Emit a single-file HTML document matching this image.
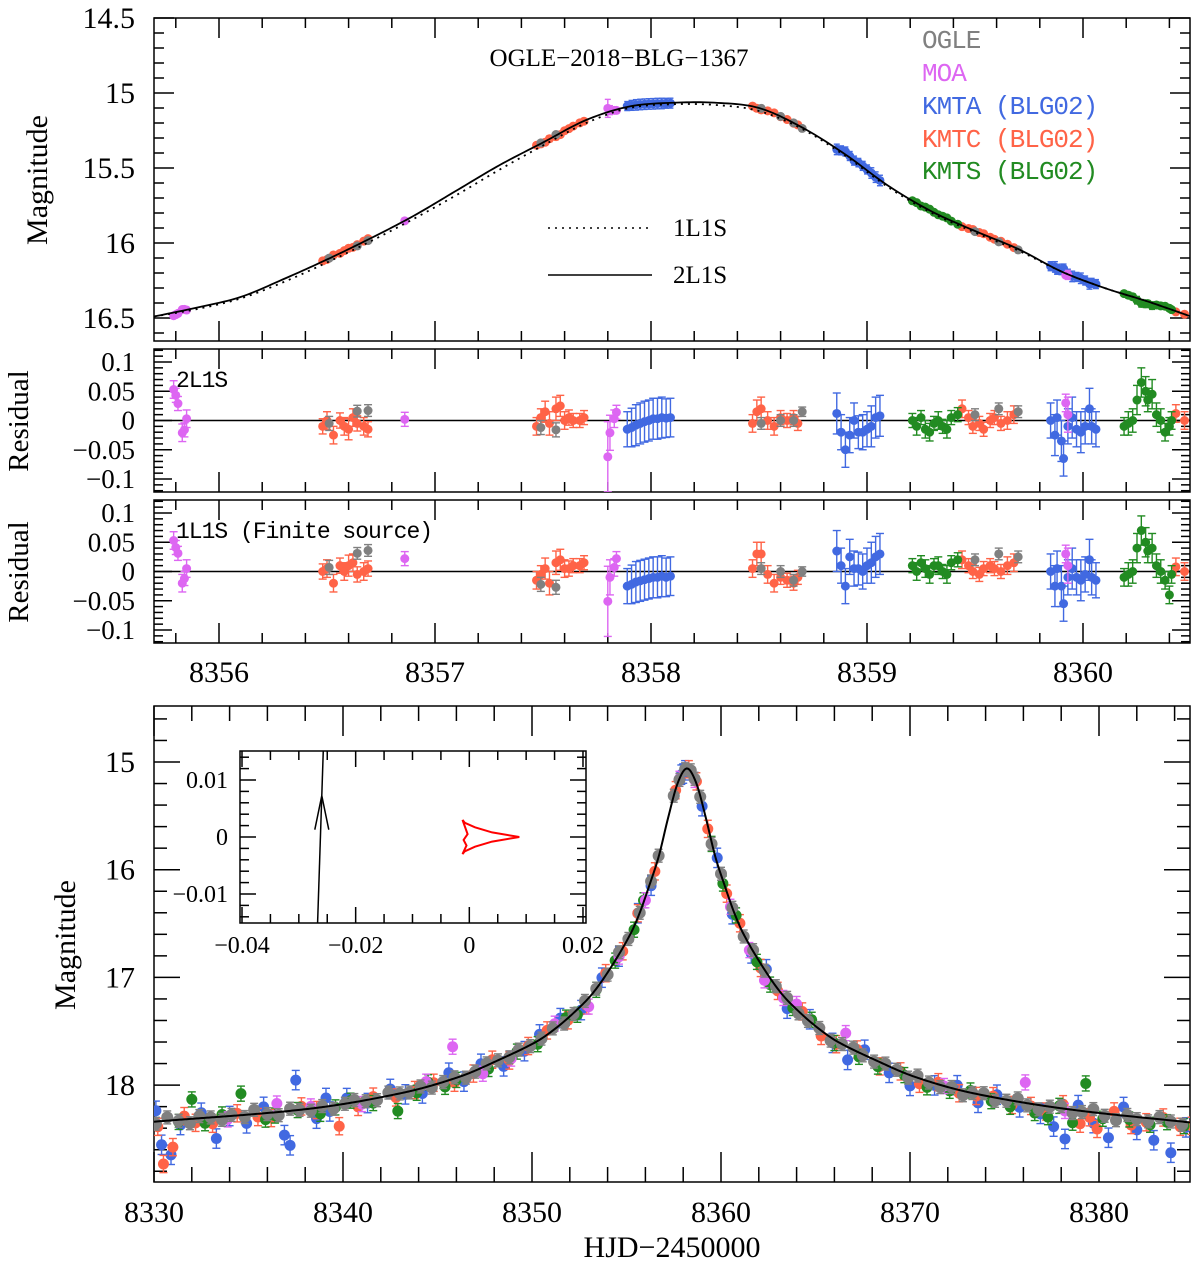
<!DOCTYPE html>
<html><head><meta charset="utf-8">
<style>
html,body{margin:0;padding:0;background:#fff;}
svg{display:block;font-family:"Liberation Serif","DejaVu Serif",serif;}
</style></head>
<body>
<svg id="chart" width="1200" height="1264" viewBox="0 0 1200 1264" xmlns="http://www.w3.org/2000/svg">
<defs>
<clipPath id="clipTop"><rect x="154" y="18" width="1036" height="323"/></clipPath>
<clipPath id="clipR1"><rect x="154" y="349" width="1036" height="143"/></clipPath>
<clipPath id="clipR2"><rect x="154" y="500" width="1036" height="143"/></clipPath>
<clipPath id="clipBot"><rect x="154" y="706" width="1036" height="476"/></clipPath>
<clipPath id="clipIn"><rect x="240" y="751" width="346" height="172"/></clipPath>
</defs>
<g id="layer"></g>
</svg>
<script>
// ---------- Top panel models ----------
const topModelT = [8355.7,8355.9,8356.1,8356.3,8356.5,8356.7,8356.9,8357.1,8357.3,8357.5,8357.7,8357.9,8358.1,8358.3,8358.5,8358.7,8358.9,8359.1,8359.3,8359.5,8359.7,8359.9,8360.1,8360.3,8360.5];
const model2L1S = [16.49,16.43,16.36,16.24,16.11,15.97,15.82,15.65,15.48,15.33,15.18,15.09,15.065,15.065,15.10,15.23,15.41,15.62,15.79,15.92,16.04,16.19,16.30,16.39,16.49];
const model1L1S = [16.49,16.44,16.37,16.26,16.13,15.99,15.84,15.68,15.51,15.35,15.20,15.10,15.075,15.08,15.12,15.24,15.42,15.63,15.80,15.93,16.05,16.19,16.30,16.39,16.49];

// ---------- Top-panel / residual data ----------
const moaT  = [8355.79,8355.80,8355.81,8355.85,8355.83,8355.84,8356.86,8357.80,8357.81,8357.83,8357.84,8359.92,8359.93];
const moaR2 = [0.053,0.043,0.029,0.003,-0.021,-0.016,0.002,-0.062,-0.021,0.003,0.014,0.03,0.01];
const moaR1 = [0.053,0.041,0.031,0.005,-0.020,-0.012,0.022,-0.051,-0.010,0.007,0.022,0.03,0.01];
const moaE  = [0.015,0.012,0.012,0.015,0.015,0.012,0.012,0.06,0.03,0.015,0.012,0.015,0.03];

const kmtcT  = [8356.48,8356.50,8356.53,8356.56,8356.58,8356.60,8356.62,8356.64,8356.67,8356.69,
                8357.47,8357.49,8357.51,8357.53,8357.56,8357.58,8357.60,8357.62,8357.64,8357.67,8357.69,
                8358.47,8358.49,8358.51,8358.54,8358.57,8358.60,8358.63,8358.66,8358.68,
                8359.44,8359.47,8359.49,8359.52,8359.54,8359.57,8359.59,8359.62,8359.65,8359.68,
                8360.43,8360.47];
const kmtcR2 = [-0.010,0.000,-0.025,0.000,-0.010,-0.015,0.005,-0.005,-0.010,-0.015,
                -0.010,0.005,0.015,-0.005,0.020,0.025,0.000,0.005,0.000,0.000,0.005,
                -0.005,0.015,0.020,0.000,-0.010,0.005,0.000,0.005,-0.005,
                0.020,0.005,-0.010,-0.005,-0.015,0.000,0.005,-0.005,0.000,0.010,
                0.012,0.000];
const kmtcR1 = [0.000,0.005,-0.020,0.010,0.000,0.010,0.015,-0.005,0.000,0.005,
                -0.015,-0.005,0.005,-0.020,0.015,0.020,0.005,0.005,0.010,0.010,0.015,
                0.005,0.030,0.030,-0.005,-0.020,-0.010,-0.015,-0.020,-0.010,
                0.020,0.010,0.000,-0.005,0.005,0.010,0.005,0.000,0.010,0.015,
                0.008,0.000];
const kmtcE  = [0.013,0.015,0.015,0.013,0.015,0.018,0.015,0.013,0.015,0.013,
                0.015,0.015,0.018,0.02,0.02,0.018,0.015,0.013,0.012,0.012,0.012,
                0.015,0.02,0.02,0.015,0.015,0.012,0.012,0.012,0.012,
                0.015,0.012,0.012,0.012,0.012,0.012,0.012,0.012,0.015,0.015,
                0.015,0.015];

const ogleT  = [8356.51,8356.64,8356.69,8357.49,8357.56,8358.51,8358.60,8358.66,8358.70,8359.50,8359.61,8359.70];
const ogleR2 = [-0.005,0.016,0.017,-0.012,-0.016,-0.005,0.000,0.000,0.015,0.010,0.020,0.015];
const ogleR1 = [0.007,0.031,0.036,-0.022,-0.027,0.005,0.000,-0.015,0.000,0.020,0.030,0.025];
const ogleE  = [0.012,0.01,0.01,0.012,0.012,0.01,0.01,0.01,0.008,0.01,0.01,0.01];

const kmtaT  = [8357.89,8357.91,8357.93,8357.95,8357.97,8357.99,8358.01,8358.03,8358.05,8358.07,8358.09,
                8358.86,8358.88,8358.90,8358.92,8358.94,8358.96,8358.98,8359.00,8359.02,8359.04,8359.06,
                8359.85,8359.87,8359.88,8359.90,8359.91,8359.93,8359.95,8359.97,8359.99,8360.01,8360.03,8360.04,8360.06];
const kmtaR2 = [-0.015,-0.012,-0.008,-0.005,-0.002,0.000,0.003,0.003,0.005,0.004,0.005,
                0.012,-0.020,-0.050,-0.025,0.000,-0.020,-0.020,-0.015,-0.010,0.005,0.008,
                0.000,-0.025,0.005,-0.035,-0.065,-0.010,0.005,-0.015,-0.020,-0.010,0.020,-0.010,-0.015];
const kmtaR1 = [-0.025,-0.022,-0.018,-0.016,-0.014,-0.012,-0.010,-0.010,-0.008,-0.010,-0.008,
                0.035,0.010,-0.025,0.025,0.005,0.005,0.000,0.010,0.015,0.025,0.030,
                0.000,-0.025,0.005,-0.025,-0.055,-0.010,0.005,-0.010,-0.015,-0.005,0.020,-0.010,-0.015];
const kmtaE  = [0.03,0.033,0.035,0.035,0.035,0.035,0.035,0.035,0.035,0.033,0.033,
                0.035,0.03,0.03,0.03,0.03,0.028,0.03,0.03,0.035,0.035,0.035,
                0.03,0.035,0.03,0.035,0.03,0.03,0.035,0.03,0.035,0.03,0.035,0.03,0.03];

const kmtsT  = [8359.21,8359.23,8359.25,8359.27,8359.29,8359.31,8359.33,8359.35,8359.37,8359.39,8359.42,
                8360.19,8360.21,8360.23,8360.25,8360.27,8360.29,8360.30,8360.32,8360.34,8360.36,8360.38,8360.40,8360.41];
const kmtsR2 = [0.000,-0.010,0.005,-0.015,-0.020,-0.005,0.000,-0.010,-0.015,0.005,0.010,
                -0.010,-0.005,0.000,0.035,0.065,0.050,0.035,0.045,0.010,0.000,-0.020,-0.010,0.000];
const kmtsR1 = [0.010,0.000,0.015,0.005,-0.005,0.010,0.010,0.000,-0.005,0.015,0.020,
                -0.010,-0.005,0.000,0.040,0.070,0.050,0.035,0.040,0.010,0.000,-0.015,-0.040,-0.005];
const kmtsE  = [0.012,0.015,0.012,0.015,0.015,0.012,0.015,0.012,0.015,0.012,0.012,
                0.015,0.02,0.02,0.025,0.025,0.025,0.02,0.025,0.02,0.02,0.015,0.015,0.015];

// ---------- Bottom panel model ----------
const botModelT = [8330,8338.2,8343.2,8346.2,8348.2,8350.2,8351.2,8352.2,8353.2,8354.2,8355.2,8355.7,8356.2,8356.7,8357.2,8357.7,8358.2,8358.7,8359.2,8359.7,8360.2,8360.7,8361.2,8362.2,8363.2,8364.2,8365.2,8366.2,8368.2,8370.2,8373.2,8378.2,8385];
const botModelM = [18.34,18.22,18.07,17.92,17.77,17.60,17.48,17.33,17.15,16.90,16.60,16.40,16.15,15.88,15.52,15.20,15.06,15.20,15.52,15.88,16.15,16.40,16.60,16.90,17.15,17.33,17.48,17.60,17.77,17.92,18.07,18.22,18.35];

// ---------- Bottom panel data (residual from model, mag) ----------
const bOgleT = [8330.1,8330.7,8331.3,8331.9,8332.4,8333.0,8333.6,8334.1,8334.8,8335.3,8336.0,8336.6,8337.2,8337.7,8338.3,8338.9,8339.5,8340.1,8340.6,8341.2,8341.8,8342.4,8343.0,8343.5,8344.1,8344.7,8345.3,8345.9,8346.5,8347.0,8347.6,8348.2,8348.8,8349.3,8349.9,8350.5,8351.1,8351.7,8352.2,8352.8,8353.4,8354.0,8354.6,8355.1,8355.7,8356.3,8356.7,8357.5,8357.8,8358.1,8358.4,8358.6,8358.9,8359.5,8360.0,8360.6,8361.2,8361.7,8362.3,8362.9,8363.5,8364.1,8364.6,8365.2,8365.8,8366.4,8367.0,8367.5,8368.1,8368.7,8369.3,8369.9,8370.4,8371.0,8371.6,8372.2,8372.8,8373.3,8373.9,8374.5,8375.1,8375.7,8376.2,8376.8,8377.4,8378.0,8378.6,8379.1,8379.7,8380.3,8380.9,8381.5,8382.0,8382.6,8383.2,8383.8,8384.4];
const bOgleR = [0.02,-0.03,0.01,0.04,-0.02,0.0,0.03,-0.01,0.02,-0.04,0.01,0.03,-0.02,0.0,0.02,-0.01,0.03,0.0,-0.02,0.01,0.02,-0.03,0.0,0.01,-0.02,0.02,0.0,-0.01,0.03,0.01,-0.02,0.0,0.02,-0.01,0.01,0.0,-0.02,0.02,0.01,-0.01,0.0,0.02,-0.02,0.01,0.0,0.01,-0.01,0.0,0.01,0.0,-0.01,0.0,0.01,0.02,-0.01,0.0,0.02,-0.01,0.01,0.0,-0.02,0.02,0.01,-0.01,0.03,0.0,-0.02,0.01,0.02,-0.01,0.0,0.03,-0.02,0.01,0.02,-0.01,0.04,0.0,-0.02,0.03,0.01,-0.03,0.02,0.04,0.0,-0.02,0.03,0.01,-0.03,0.02,0.05,-0.01,0.02,0.03,-0.02,0.01,0.03];
const bOgleE = 0.06;
const bKmtaT = [8330.1,8330.4,8330.9,8331.4,8332.5,8333.3,8334.0,8334.9,8335.8,8336.9,8337.2,8337.5,8338.6,8339.1,8339.3,8340.2,8341.3,8342.5,8343.3,8344.2,8345.6,8346.4,8347.3,8348.5,8349.6,8350.4,8351.5,8352.6,8353.7,8354.6,8355.6,8356.3,8357.9,8358.0,8358.1,8359.0,8359.8,8360.6,8361.6,8362.4,8363.5,8364.7,8365.9,8366.7,8367.6,8368.9,8370.0,8371.3,8372.5,8373.6,8374.6,8375.8,8376.9,8377.6,8378.2,8378.9,8379.7,8380.5,8381.3,8382.0,8382.9,8383.8,8384.6];
const bKmtaR = [-0.1,0.22,0.32,0.05,-0.05,0.2,0.0,0.08,-0.06,0.22,0.32,-0.28,0.1,-0.08,0.05,-0.05,0.03,-0.06,0.02,0.05,-0.07,0.06,-0.04,0.08,0.03,-0.05,-0.06,0.04,-0.03,0.02,-0.04,0.05,0.0,0.02,0.01,0.03,-0.05,0.06,0.05,-0.03,0.08,-0.02,0.04,0.12,-0.05,0.06,0.10,0.02,-0.04,0.08,-0.03,0.05,0.08,0.18,0.28,-0.05,0.10,0.22,-0.08,0.12,0.2,0.30,0.05];
const bKmtaE = 0.09;
const bKmtcT = [8330.2,8330.5,8331.0,8331.6,8332.2,8333.1,8334.4,8335.5,8336.2,8337.8,8338.6,8339.8,8340.8,8341.6,8342.8,8343.8,8344.8,8345.9,8346.9,8347.9,8348.8,8349.8,8350.8,8351.9,8352.9,8353.9,8354.8,8355.6,8356.5,8357.6,8358.3,8358.7,8359.3,8360.3,8361.0,8362.1,8363.0,8364.3,8365.3,8366.1,8367.2,8368.4,8369.5,8370.5,8371.5,8372.6,8373.5,8374.4,8375.4,8376.4,8377.2,8378.1,8379.0,8379.5,8379.9,8380.8,8381.7,8382.5,8383.4,8384.3,8384.9];
const bKmtcR = [0.05,0.4,0.25,-0.03,0.04,0.06,-0.02,0.03,0.05,-0.03,0.02,0.2,0.05,-0.02,0.03,0.0,-0.02,0.04,0.02,-0.03,0.05,0.0,-0.04,0.02,0.05,-0.02,0.03,-0.04,0.02,0.01,0.0,-0.02,0.03,0.02,-0.03,0.04,0.02,-0.03,0.05,0.03,-0.02,0.04,0.0,0.05,-0.02,0.03,0.02,-0.01,0.04,0.02,0.05,-0.04,0.12,0.05,0.15,-0.03,0.08,0.04,-0.02,0.05,0.03];
const bKmtcE = 0.08;
const bKmtsT = [8331.3,8332.0,8332.7,8333.6,8334.6,8335.9,8336.4,8337.6,8338.8,8339.6,8340.4,8341.6,8342.9,8343.9,8344.5,8345.4,8346.0,8347.7,8349.2,8350.3,8351.8,8352.4,8353.4,8354.4,8355.4,8355.9,8359.5,8360.1,8360.8,8361.9,8362.6,8363.8,8364.8,8366.0,8367.3,8368.3,8369.7,8370.9,8372.1,8373.2,8374.3,8375.3,8376.6,8377.3,8377.9,8378.6,8379.3,8380.2,8381.6,8382.7,8383.6,8384.5];
const bKmtsR = [0.02,-0.18,0.05,-0.02,-0.2,0.06,0.03,0.0,0.06,0.02,-0.02,0.04,0.16,0.03,-0.04,0.05,0.02,0.04,0.0,0.03,-0.02,0.05,0.01,0.0,0.03,-0.02,0.02,0.03,-0.02,0.04,0.06,0.02,-0.03,0.03,0.04,0.05,0.02,0.06,0.03,-0.02,0.04,0.06,0.08,0.1,-0.02,0.12,-0.26,0.05,0.03,0.06,0.02,0.04];
const bKmtsE = 0.07;
const bMoaT = [8333.9,8336.5,8338.3,8341.0,8344.4,8345.8,8347.4,8348.9,8351.2,8353.0,8354.6,8356.0,8357.8,8358.6,8360.5,8361.5,8362.3,8363.3,8364.0,8366.6,8371.8,8376.1,8378.2];
const bMoaR = [0.03,-0.08,-0.02,0.03,-0.05,-0.3,0.06,0.04,-0.05,0.08,0.02,0.03,0.0,0.01,0.04,0.05,0.1,0.02,-0.05,-0.12,0.0,-0.19,0.02];
const bMoaE = 0.07;

// ---------- Inset (source trajectory & caustic) ----------
const trajU = [-0.0267,-0.0257];
const trajV = [-0.0151,0.0151];
const causticU = [-0.0012,-0.0008,0.0010,0.0040,0.0088,0.0040,0.0010,-0.0008,-0.0012,-0.0005,-0.0010,-0.0003,-0.0012];
const causticV = [0.0030,0.0025,0.0017,0.0008,0.0000,-0.0008,-0.0017,-0.0025,-0.0030,-0.0015,-0.0005,0.0005,0.0030];

// ---------- Tick labels ----------
const topYTicks = [14.5,15,15.5,16,16.5];
const topYLabels = ["14.5","15","15.5","16","16.5"];
const resYTicks = [0.1,0.05,0,-0.05,-0.1];
const resYLabels = ["0.1","0.05","0","\u22120.05","\u22120.1"];
const topXTicks = [8356,8357,8358,8359,8360];
const botXTicks = [8330,8340,8350,8360,8370,8380];
const botYTicks = [15,16,17,18];
const inXTicks = [-0.04,-0.02,0,0.02];
const inXLabels = ["\u22120.04","\u22120.02","0","0.02"];
const inYTicks = [0.01,0,-0.01];
const inYLabels = ["0.01","0","\u22120.01"];

// ---------- Colors ----------
const C = {ogle:"#808080", moa:"#dd66f2", kmta:"#4169e1", kmtc:"#ff6347", kmts:"#228b22"};

// ---------- scales ----------
const xT = t => 219 + (t - 8356) * 216;
const yT = m => 18 + (m - 14.5) * 150;
const yR1 = r => 420.5 - r * 585;
const yR2 = r => 571.5 - r * 585;
const xB = t => 154 + (t - 8330) * 18.9;
const yB = m => 762 + (m - 15) * 107.7;
const xI = u => 242 + (u + 0.04) * 5683;
const yI = v => 837 - v * 5700;

const NS = "http://www.w3.org/2000/svg";
const root = document.getElementById("layer");
function mk(tag, attrs, parent) {
  const e = document.createElementNS(NS, tag);
  for (const k in attrs) e.setAttribute(k, attrs[k]);
  (parent || root).appendChild(e);
  return e;
}
function grp(name, clip) {
  const g = mk("g", clip ? {"clip-path": "url(#" + clip + ")"} : {});
  
  
  return g;
}
function interp(ts, ms, t) {
  if (t <= ts[0]) return ms[0];
  for (let i = 1; i < ts.length; i++) {
    if (t <= ts[i]) {
      const p0 = i > 1 ? i - 2 : i - 1, p1 = i - 1, p2 = i, p3 = i < ts.length - 1 ? i + 1 : i;
      const h = ts[p2] - ts[p1];
      const f = (t - ts[p1]) / h;
      const s0 = (ms[p2] - ms[p0]) / (ts[p2] - ts[p0]);
      const s1 = (ms[p3] - ms[p1]) / ((ts[p3] - ts[p1]) || 1);
      const m1 = s0 * h, m2 = s1 * h;
      const f2 = f * f, f3 = f2 * f;
      return (2*f3 - 3*f2 + 1) * ms[p1] + (f3 - 2*f2 + f) * m1 + (-2*f3 + 3*f2) * ms[p2] + (f3 - f2) * m2;
    }
  }
  return ms[ms.length - 1];
}
function curvePath(ts, ms, xf, yf, steps) {
  let d = "";
  const t0 = ts[0], t1 = ts[ts.length - 1];
  for (let i = 0; i <= steps; i++) {
    const t = t0 + (t1 - t0) * i / steps;
    d += (i ? "L" : "M") + xf(t).toFixed(2) + "," + yf(interp(ts, ms, t)).toFixed(2);
  }
  return d;
}
function drawPoints(g, name, ts, vals, errs, color, xf, yf, r, cap) {
  const n = Math.min(ts.length, vals.length);
  for (let i = 0; i < n; i++) {
    const e = Array.isArray(errs) ? errs[i] : errs;
    const x = xf(ts[i]);
    const ya = yf(vals[i] + e), yb = yf(vals[i] - e), y = yf(vals[i]);
    const pg = mk("g", {}, g);
    
    
    mk("line", {x1: x, y1: ya, x2: x, y2: yb, stroke: color, "stroke-width": 1.4}, pg);
    mk("line", {x1: x - cap, y1: ya, x2: x + cap, y2: ya, stroke: color, "stroke-width": 1.4}, pg);
    mk("line", {x1: x - cap, y1: yb, x2: x + cap, y2: yb, stroke: color, "stroke-width": 1.4}, pg);
    mk("circle", {cx: x, cy: y, r: r, fill: color}, pg);
  }
}
function ticksX(g, x0, x1, yTop, yBot, step, majorEvery, xf, lMaj, lMin) {
  const n = Math.round((x1 - x0) / step);
  for (let i = 0; i <= n; i++) {
    const v = x0 + i * step;
    const maj = Math.abs(v / majorEvery - Math.round(v / majorEvery)) < 1e-6;
    const L = maj ? lMaj : lMin;
    const x = xf(v);
    mk("line", {x1: x, y1: yTop, x2: x, y2: yTop + L, stroke: "#000", "stroke-width": 1.5}, g);
    mk("line", {x1: x, y1: yBot, x2: x, y2: yBot - L, stroke: "#000", "stroke-width": 1.5}, g);
  }
}
function ticksY(g, v0, v1, xL, xR, step, majorEvery, yf, lMaj, lMin) {
  const n = Math.round((v1 - v0) / step);
  for (let i = 0; i <= n; i++) {
    const v = v0 + i * step;
    const maj = Math.abs(v / majorEvery - Math.round(v / majorEvery)) < 1e-6;
    const L = maj ? lMaj : lMin;
    const y = yf(v);
    mk("line", {x1: xL, y1: y, x2: xL + L, y2: y, stroke: "#000", "stroke-width": 1.5}, g);
    mk("line", {x1: xR, y1: y, x2: xR - L, y2: y, stroke: "#000", "stroke-width": 1.5}, g);
  }
}
function text(g, name, x, y, s, size, anchor, color, extra) {
  const t = mk("text", Object.assign({x: x, y: y, "font-size": size, "text-anchor": anchor || "start", fill: color || "#000"}, extra || {}), g);
  t.textContent = s;
  
  
  return t;
}

// ================= TOP PANEL =================
const gTop = grp("top-light-curve-panel");
const gTopData = grp("top-data-points", "clipTop");
const m2 = t => interp(topModelT, model2L1S, t);
const topSets = [
  ["kmtc", kmtcT, kmtcR2, kmtcE], ["ogle", ogleT, ogleR2, ogleE], ["kmta", kmtaT, kmtaR2, kmtaE],
  ["kmts", kmtsT, kmtsR2, kmtsE], ["moa", moaT, moaR2, moaE]
];
topSets.forEach(s => {
  const mags = s[1].map((t, i) => m2(t) + s[2][i] * 0.4);
  drawPoints(gTopData, s[0] + "-top", s[1], mags, s[3], C[s[0]], xT, yT, 4.5, 3);
});
const gCurves = grp("top-model-curves", "clipTop");
const c1 = mk("path", {d: curvePath(topModelT, model1L1S, xT, yT, 300), fill: "none", stroke: "#000", "stroke-width": 1.8, "stroke-dasharray": "2,5"}, gCurves);


const c2 = mk("path", {d: curvePath(topModelT, model2L1S, xT, yT, 300), fill: "none", stroke: "#000", "stroke-width": 1.8}, gCurves);


mk("rect", {x: 154, y: 18, width: 1036, height: 323, fill: "none", stroke: "#000", "stroke-width": 1.5}, gTop);
ticksX(gTop, 8355.8, 8360.4, 18, 341, 0.2, 1, xT, 20, 10);
ticksY(gTop, 14.5, 16.6, 154, 1190, 0.1, 0.5, yT, 20, 10);
topYTicks.forEach((v, i) => text(gTop, "top-y-tick-label", 135, yT(v) + 10, topYLabels[i], 30, "end"));
text(gTop, "top-y-axis-title", 0, 0, "Magnitude", 30, "middle", "#000", {transform: "translate(47,180) rotate(-90)"});
text(gTop, "event-title", 619, 66, "OGLE\u22122018\u2212BLG\u22121367", 25, "middle");
const legend = grp("dataset-legend");
[["OGLE", "ogle", 48], ["MOA", "moa", 81], ["KMTA (BLG02)", "kmta", 114], ["KMTC (BLG02)", "kmtc", 147], ["KMTS (BLG02)", "kmts", 179]]
  .forEach(l => text(legend, "legend-" + l[1], 922, l[2], l[0], 26, "start", C[l[1]], {"font-family": "Liberation Mono, monospace", "letter-spacing": "-1"}));
const lineLeg = grp("model-legend");
mk("line", {x1: 548, y1: 228, x2: 650, y2: 228, stroke: "#000", "stroke-width": 1.6, "stroke-dasharray": "2,5"}, lineLeg);
text(lineLeg, "legend-1l1s", 673, 236, "1L1S", 25, "start");
mk("line", {x1: 548, y1: 275, x2: 652, y2: 275, stroke: "#000", "stroke-width": 1.6}, lineLeg);
text(lineLeg, "legend-2l1s", 673, 283, "2L1S", 25, "start");

// ================= RESIDUAL PANELS =================
function residualPanel(name, yf, top, clip, key, label) {
  const g = grp(name);
  const gd = grp(name + "-points", clip);
  mk("line", {x1: 154, y1: yf(0), x2: 1190, y2: yf(0), stroke: "#000", "stroke-width": 1.5}, gd);
  const sets = [
    ["kmtc", kmtcT, key === 2 ? kmtcR2 : kmtcR1, kmtcE], ["ogle", ogleT, key === 2 ? ogleR2 : ogleR1, ogleE],
    ["kmta", kmtaT, key === 2 ? kmtaR2 : kmtaR1, kmtaE], ["kmts", kmtsT, key === 2 ? kmtsR2 : kmtsR1, kmtsE],
    ["moa", moaT, key === 2 ? moaR2 : moaR1, moaE]
  ];
  sets.forEach(s => drawPoints(gd, s[0] + "-" + name, s[1], s[2], s[3], C[s[0]], xT, yf, 4.5, 4));
  mk("rect", {x: 154, y: top, width: 1036, height: 143, fill: "none", stroke: "#000", "stroke-width": 1.5}, g);
  ticksX(g, 8355.8, 8360.4, top, top + 143, 0.2, 1, xT, 20, 10);
  ticksY(g, -0.12, 0.12, 154, 1190, 0.01, 0.05, yf, 18, 9);
  resYTicks.forEach((v, i) => text(g, "residual-y-tick-label", 135, yf(v) + 9, resYLabels[i], 27, "end"));
  text(g, "residual-y-axis-title", 0, 0, "Residual", 29, "middle", "#000", {transform: "translate(28," + (top + 72) + ") rotate(-90)"});
  text(g, "residual-model-label", 176, top + 38, label, 23, "start", "#000", {"font-family": "Liberation Mono, monospace", "letter-spacing": "-1"});
}
residualPanel("residual-2l1s-panel", yR1, 349, "clipR1", 2, "2L1S");
residualPanel("residual-1l1s-panel", yR2, 500, "clipR2", 1, "1L1S (Finite source)");
const gTx = grp("top-x-axis-labels");
topXTicks.forEach(v => text(gTx, "top-x-tick-label", xT(v), 682, String(v), 30, "middle"));

// ================= BOTTOM PANEL =================
const gBot = grp("full-light-curve-panel");
const gBotData = grp("full-data-points", "clipBot");
const mb = t => interp(botModelT, botModelM, t);
const botSets = [
  ["ogle", bOgleT, bOgleR, bOgleE], ["kmta", bKmtaT, bKmtaR, bKmtaE], ["kmtc", bKmtcT, bKmtcR, bKmtcE],
  ["kmts", bKmtsT, bKmtsR, bKmtsE], ["moa", bMoaT, bMoaR, bMoaE]
];
[1, 2, 3, 4, 0].forEach(k => {
  const s = botSets[k];
  const n = Math.min(s[1].length, s[2].length);
  const mags = [];
  for (let i = 0; i < n; i++) mags.push(mb(s[1][i]) + s[2][i]);
  drawPoints(gBotData, s[0] + "-full", s[1].slice(0, n), mags, s[3], C[s[0]], xB, yB, k === 0 ? 6 : 5.5, 4);
});
const cb = mk("path", {d: curvePath(botModelT, botModelM, xB, yB, 800), fill: "none", stroke: "#000", "stroke-width": 2}, gBotData);


mk("rect", {x: 154, y: 706, width: 1036, height: 476, fill: "none", stroke: "#000", "stroke-width": 1.5}, gBot);
ticksX(gBot, 8330, 8384, 706, 1182, 2, 10, xB, 30, 15);
ticksY(gBot, 14.6, 18.8, 154, 1190, 0.2, 1, yB, 26, 13);
botYTicks.forEach(v => text(gBot, "bottom-y-tick-label", 135, yB(v) + 10, String(v), 30, "end"));
botXTicks.forEach(v => text(gBot, "bottom-x-tick-label", xB(v), 1222, String(v), 30, "middle"));
text(gBot, "bottom-y-axis-title", 0, 0, "Magnitude", 30, "middle", "#000", {transform: "translate(75,945) rotate(-90)"});
text(gBot, "x-axis-title", 672, 1257, "HJD\u22122450000", 30, "middle");

// ================= INSET =================
const gIn = grp("caustic-inset");
mk("rect", {x: 240, y: 751, width: 346, height: 172, fill: "#fff", stroke: "#000", "stroke-width": 1.5}, gIn);
const gInD = grp("inset-marks", "clipIn");
const tr = mk("line", {x1: xI(trajU[0]), y1: yI(trajV[0]), x2: xI(trajU[1]), y2: yI(trajV[1]), stroke: "#000", "stroke-width": 1.5}, gInD);


const au = trajU[0] + (trajU[1] - trajU[0]) * 0.74, av = trajV[0] + (trajV[1] - trajV[0]) * 0.74;
const ah = mk("path", {d: "M" + (xI(au) - 7) + "," + (yI(av) + 34) + "L" + xI(au) + "," + yI(av) + "L" + (xI(au) + 7) + "," + (yI(av) + 34), fill: "none", stroke: "#000", "stroke-width": 1.5}, gInD);


let cd = "";
causticU.forEach((u, i) => { cd += (i ? "L" : "M") + xI(u).toFixed(1) + "," + yI(causticV[i]).toFixed(1); });
const cp = mk("path", {d: cd, fill: "none", stroke: "#ff0000", "stroke-width": 2}, gInD);


ticksX(gIn, -0.04, 0.02, 751, 923, 0.005, 0.02, xI, 16, 9);
ticksY(gIn, -0.014, 0.014, 240, 586, 0.002, 0.01, yI, 16, 9);
inXTicks.forEach((v, i) => text(gIn, "inset-x-tick-label", xI(v), 953, inXLabels[i], 24, "middle"));
inYTicks.forEach((v, i) => text(gIn, "inset-y-tick-label", 228, yI(v) + 8, inYLabels[i], 24, "end"));
</script>
</body></html>
